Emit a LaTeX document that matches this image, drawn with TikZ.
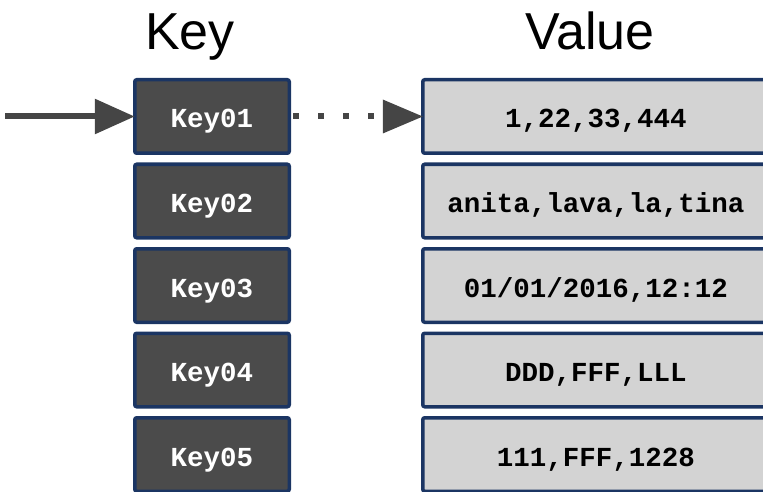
\documentclass[tikz,border=0pt]{standalone}
\usepackage{fontspec}
\setmainfont{Liberation Sans}
\setmonofont{Liberation Mono}
\usetikzlibrary{arrows.meta,positioning}

\definecolor{boxborder}{HTML}{1B3563}
\definecolor{keyfill}{HTML}{4B4B4B}
\definecolor{valfill}{HTML}{D3D3D3}
\definecolor{arrowgray}{HTML}{454545}

\begin{document}
\begin{tikzpicture}[
		x=1pt, y=-1pt,
		node distance=11pt,
		every node/.style={inner sep=0pt, outer sep=0pt},
		keybox/.style={draw=boxborder, line width=3.5pt, fill=keyfill, rounded corners=2pt,
			minimum width=154.5pt, minimum height=73.5pt, text=white,
			text height=23pt, text depth=0pt,
			font=\ttfamily\bfseries\fontsize{27.5}{28}\selectfont},
		valbox/.style={draw=boxborder, line width=3.5pt, fill=valfill, rounded corners=2pt,
			minimum width=346.5pt, minimum height=73.5pt, text=black,
			text height=23pt, text depth=0pt,
			font=\ttfamily\bfseries\fontsize{27.5}{28}\selectfont},
		title/.style={anchor=base, font=\fontsize{52}{52}\selectfont},
		inarrow/.style={draw=arrowgray, line width=6pt, -{Triangle[length=40pt,width=34pt]}},
		lookup/.style={draw=arrowgray, line width=6pt, dash pattern=on 6pt off 19pt,
			-{Triangle[length=40pt,width=34pt,line width=0pt]}}
	]
		\useasboundingbox (0,0) rectangle (763,492);
		\clip (0,0) rectangle (763,492);

		% Titles
		\node[title] (keytitle) at (190,50) {Key};
		\node[title] (valtitle) at (590,50) {Value};

		% Keys
		\node[keybox] (key1) at (212,116.5) {Key01};
		\node[keybox, below=of key1] (key2) {Key02};
		\node[keybox, below=of key2] (key3) {Key03};
		\node[keybox, below=of key3] (key4) {Key04};
		\node[keybox, below=of key4] (key5) {Key05};

		% Values
		\node[valbox] (val1) at (596,116.5) {1,22,33,444};
		\node[valbox, below=of val1] (val2) {anita,lava,la,tina};
		\node[valbox, below=of val2] (val3) {01/01/2016,12:12};
		\node[valbox, below=of val3] (val4) {DDD,FFF,LLL};
		\node[valbox, below=of val4] (val5) {111,FFF,1228};

		% Arrows
		\coordinate (start) at (5,116.5);
		\draw[inarrow] (start) -- (key1.west);
		\draw[lookup] ([xshift=4pt]key1.east) -- (val1.west);
	\end{tikzpicture}
\end{document}
